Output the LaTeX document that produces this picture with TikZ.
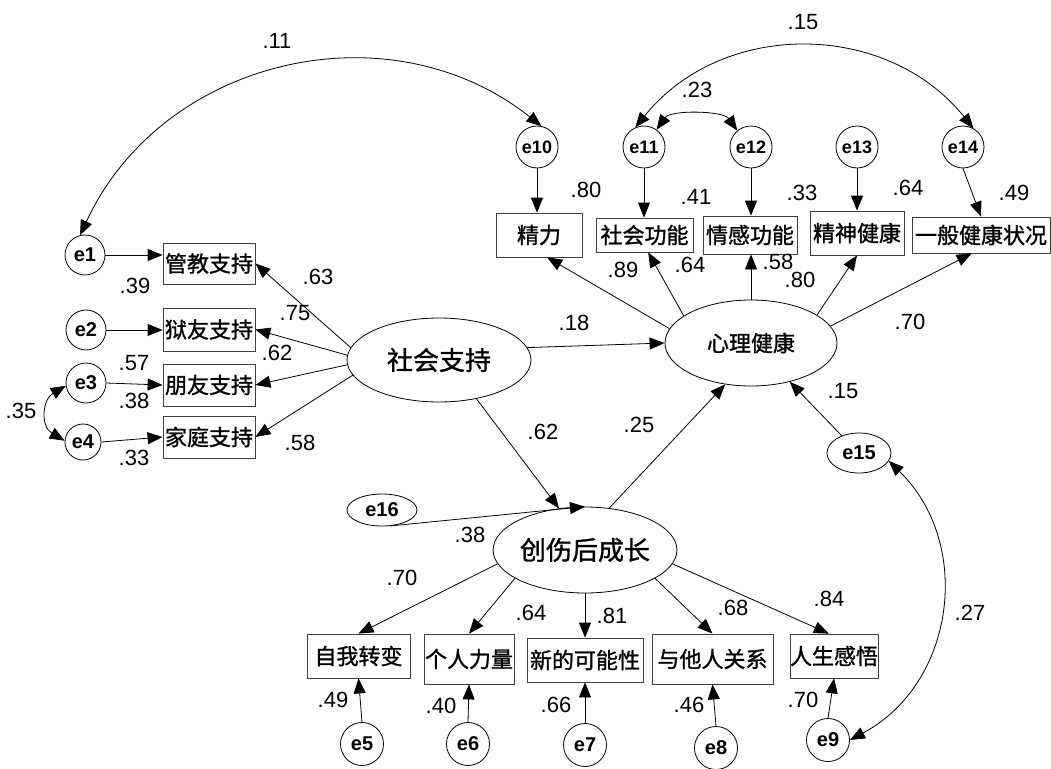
\documentclass[tikz,border=0pt]{standalone}
\usepackage{fontspec}
\setmainfont{Liberation Sans}
\newfontfamily\cjk[FakeBold=1.2]{Noto Sans CJK SC}
\usetikzlibrary{shapes.geometric,arrows.meta}
\begin{document}
\begin{tikzpicture}[x=1pt,y=-1pt,
  lat/.style={ellipse,draw,line width=0.8pt,inner sep=0pt,font=\cjk\fontsize{26}{26}\selectfont},
  obs/.style={rectangle,draw=black!75,line width=0.8pt,inner sep=0pt,font=\cjk\fontsize{22}{22}\selectfont},
  err/.style={circle,draw,line width=0.8pt,inner sep=0pt,minimum size=42pt,font=\bfseries\fontsize{20}{20}\selectfont},
  errell/.style={ellipse,draw,line width=0.8pt,inner sep=0pt,font=\bfseries\fontsize{20}{20}\selectfont},
  lab/.style={inner sep=0pt,font=\fontsize{22}{22}\selectfont},
  arr/.style={-{Triangle[length=15pt,width=12pt]},line width=0.8pt},
  darr/.style={{Triangle[length=15pt,width=12pt]}-{Triangle[length=15pt,width=12pt]},line width=0.8pt}
]
\fill[white] (0,0) rectangle (1051,768);
\useasboundingbox (0,0) rectangle (1051,768);

% observed boxes left
\node[obs,minimum width=92pt,minimum height=41pt] (gj) at (209,263.5) {管教支持};
\node[obs,minimum width=92pt,minimum height=43pt] (yy) at (209,329.5) {狱友支持};
\node[obs,minimum width=92pt,minimum height=42pt] (py) at (209,385) {朋友支持};
\node[obs,minimum width=92pt,minimum height=42pt] (jt) at (209,437) {家庭支持};
% top boxes
\node[obs,minimum width=86pt,minimum height=44pt] (jl) at (539,235) {精力};
\node[obs,minimum width=97pt,minimum height=34pt] (sh) at (644.5,235) {社会功能};
\node[obs,minimum width=94pt,minimum height=38pt] (qg) at (750,235) {情感功能};
\node[obs,minimum width=94pt,minimum height=44pt] (js) at (857,233) {精神健康};
\node[obs,minimum width=138pt,minimum height=36pt] (yb) at (981,235) {一般健康状况};
% bottom boxes
\node[obs,minimum width=103pt,minimum height=44pt] (zw) at (358.5,656) {自我转变};
\node[obs,minimum width=90pt,minimum height=50pt] (gr) at (469,659) {个人力量};
\node[obs,minimum width=116pt,minimum height=44pt] (xd) at (585,660) {新的可能性};
\node[obs,minimum width=121pt,minimum height=50pt] (yt) at (712.5,659) {与他人关系};
\node[obs,minimum width=86pt,minimum height=44pt] (rs) at (834,656) {人生感悟};

% latent
\node[lat,minimum width=184pt,minimum height=84pt] (ss) at (439,360) {社会支持};
\node[lat,minimum width=172pt,minimum height=86pt,font=\cjk\fontsize{22}{22}\selectfont] (xl) at (751,343) {心理健康};
\node[lat,minimum width=172pt,minimum height=86pt] (ptg) at (585,550) {创伤后成长};

% errors
\node[err,minimum size=40pt] (e1) at (85,255) {e1};
\node[err,minimum size=40pt] (e2) at (86,330) {e2};
\node[err,minimum size=40pt] (e3) at (86,383) {e3};
\node[err,minimum size=36pt] (e4) at (83,442) {e4};
\node[err,font=\bfseries\fontsize{18}{18}\selectfont] (e10) at (537,147) {e10};
\node[err,font=\bfseries\fontsize{18}{18}\selectfont] (e11) at (644,147) {e11};
\node[err,font=\bfseries\fontsize{18}{18}\selectfont] (e12) at (751,147) {e12};
\node[err,font=\bfseries\fontsize{18}{18}\selectfont] (e13) at (857,147) {e13};
\node[err,font=\bfseries\fontsize{18}{18}\selectfont] (e14) at (963,147) {e14};
\node[err,minimum size=43pt] (e5) at (362,744) {e5};
\node[err,minimum size=43pt] (e6) at (468,744) {e6};
\node[err,minimum size=43pt] (e7) at (585,745) {e7};
\node[err,minimum size=43pt] (e8) at (716,748) {e8};
\node[err,minimum size=43pt] (e9) at (828,740) {e9};
\node[errell,minimum width=64pt,minimum height=40pt] (e15) at (859,453) {e15};
\node[errell,minimum width=70pt,minimum height=32pt] (e16) at (382,510) {e16};

% error -> indicator arrows
\draw[arr] (e1.east) -- (e1.east -| gj.west);
\draw[arr] (e2.east) -- (e2.east -| yy.west);
\draw[arr] (e3.east) -- (py.west);
\draw[arr] (e4.east) -- (jt.west);
\draw[arr] (e10.south) -- (e10.south |- jl.north);
\draw[arr] (e11.south) -- (e11.south |- sh.north);
\draw[arr] (e12.south) -- (e12.south |- qg.north);
\draw[arr] (e13.south) -- (e13.south |- js.north);
\draw[arr] (e14.south) -- (yb.north);
\draw[arr] (e5.north) -- (zw.south);
\draw[arr] (e6.north) -- (gr.south);
\draw[arr] (e7.north) -- (xd.south);
\draw[arr] (e8.north) -- (yt.south);
\draw[arr] (e9.north) -- (rs.south);

% latent -> indicators
\draw[arr] (ss.172) -- (gj.east);
\draw[arr] (ss.177) -- (yy.east);
\draw[arr] (ss.183) -- (py.east);
\draw[arr] (ss.190) -- (jt.east);
\draw[arr] (xl.170) -- (jl.-70);
\draw[arr] (xl.158) -- (sh.-78);
\draw[arr] (xl.north) -- (xl.north |- qg.south);
\draw[arr] (xl.23) -- (js.south);
\draw[arr] (xl.12) -- (yb.-117);
\draw[arr] (ptg.189) -- (zw.north);
\draw[arr] (ptg.-158) -- (gr.north);
\draw[arr] (ptg.south) -- (ptg.south |- xd.north);
\draw[arr] (ptg.-22) -- (yt.north);
\draw[arr] (ptg.-9) -- (rs.103);

% structural
\draw[arr] (ss.8) -- (xl.180);
\draw[arr] (ss.-46) -- (ptg.122);
\draw[arr] (ptg.60) -- (xl.-122);
\draw[arr] (e16.-62) -- (ptg.north);
\draw[arr] (e15.135) -- (xl.-45);

% covariances
\draw[darr] (e1.104) .. controls +(82,-177) and +(-153,-121) .. (e10.78);
\draw[darr] (e11.114) .. controls +(87,-108) and +(-87,-108) .. (e14.61);
\draw[darr] (e11.54) .. controls +(14,-20) and +(-14,-20) .. (e12.130);
\draw[darr] (e3.188) .. controls +(-24,14) and +(-24,-14) .. (e4.176);
\draw[darr] (e15.-15) .. controls +(85,83) and +(105,-56) .. (e9.east);

% labels
\node[lab] (l11) at (277,41) {.11};
\node[lab] (l15a) at (803,22) {.15};
\node[lab] (l23) at (697,90) {.23};
\node[lab] (l80a) at (586,190) {.80};
\node[lab] (l41) at (696,197) {.41};
\node[lab] (l33a) at (802,193) {.33};
\node[lab] (l64a) at (908,188) {.64};
\node[lab] (l49a) at (1014,193) {.49};
\node[lab] (l89) at (623,270) {.89};
\node[lab] (l64b) at (690,265) {.64};
\node[lab] (l58a) at (778,262) {.58};
\node[lab] (l80b) at (800,280) {.80};
\node[lab] (l70a) at (910,322) {.70};
\node[lab] (l18) at (574,323) {.18};
\node[lab] (l62a) at (543,432) {.62};
\node[lab] (l25) at (639,425) {.25};
\node[lab] (l15b) at (843,391) {.15};
\node[lab] (l38a) at (470,535) {.38};
\node[lab] (l70b) at (402,578) {.70};
\node[lab] (l64c) at (531,613) {.64};
\node[lab] (l81) at (612,616) {.81};
\node[lab] (l68) at (733,608) {.68};
\node[lab] (l84) at (829,599) {.84};
\node[lab] (l27) at (970,613) {.27};
\node[lab] (l49b) at (333,700) {.49};
\node[lab] (l40) at (441,706) {.40};
\node[lab] (l66) at (556,705) {.66};
\node[lab] (l46) at (689,705) {.46};
\node[lab] (l70c) at (803,700) {.70};
\node[lab] (l39) at (135,286) {.39};
\node[lab] (l57) at (134,363) {.57};
\node[lab] (l38b) at (134,401) {.38};
\node[lab] (l33b) at (134,458) {.33};
\node[lab] (l35) at (21,411) {.35};
\node[lab] (l63) at (318,277) {.63};
\node[lab] (l75) at (295,313) {.75};
\node[lab] (l62b) at (277,353) {.62};
\node[lab] (l58b) at (300,443) {.58};
\end{tikzpicture}
\end{document}
